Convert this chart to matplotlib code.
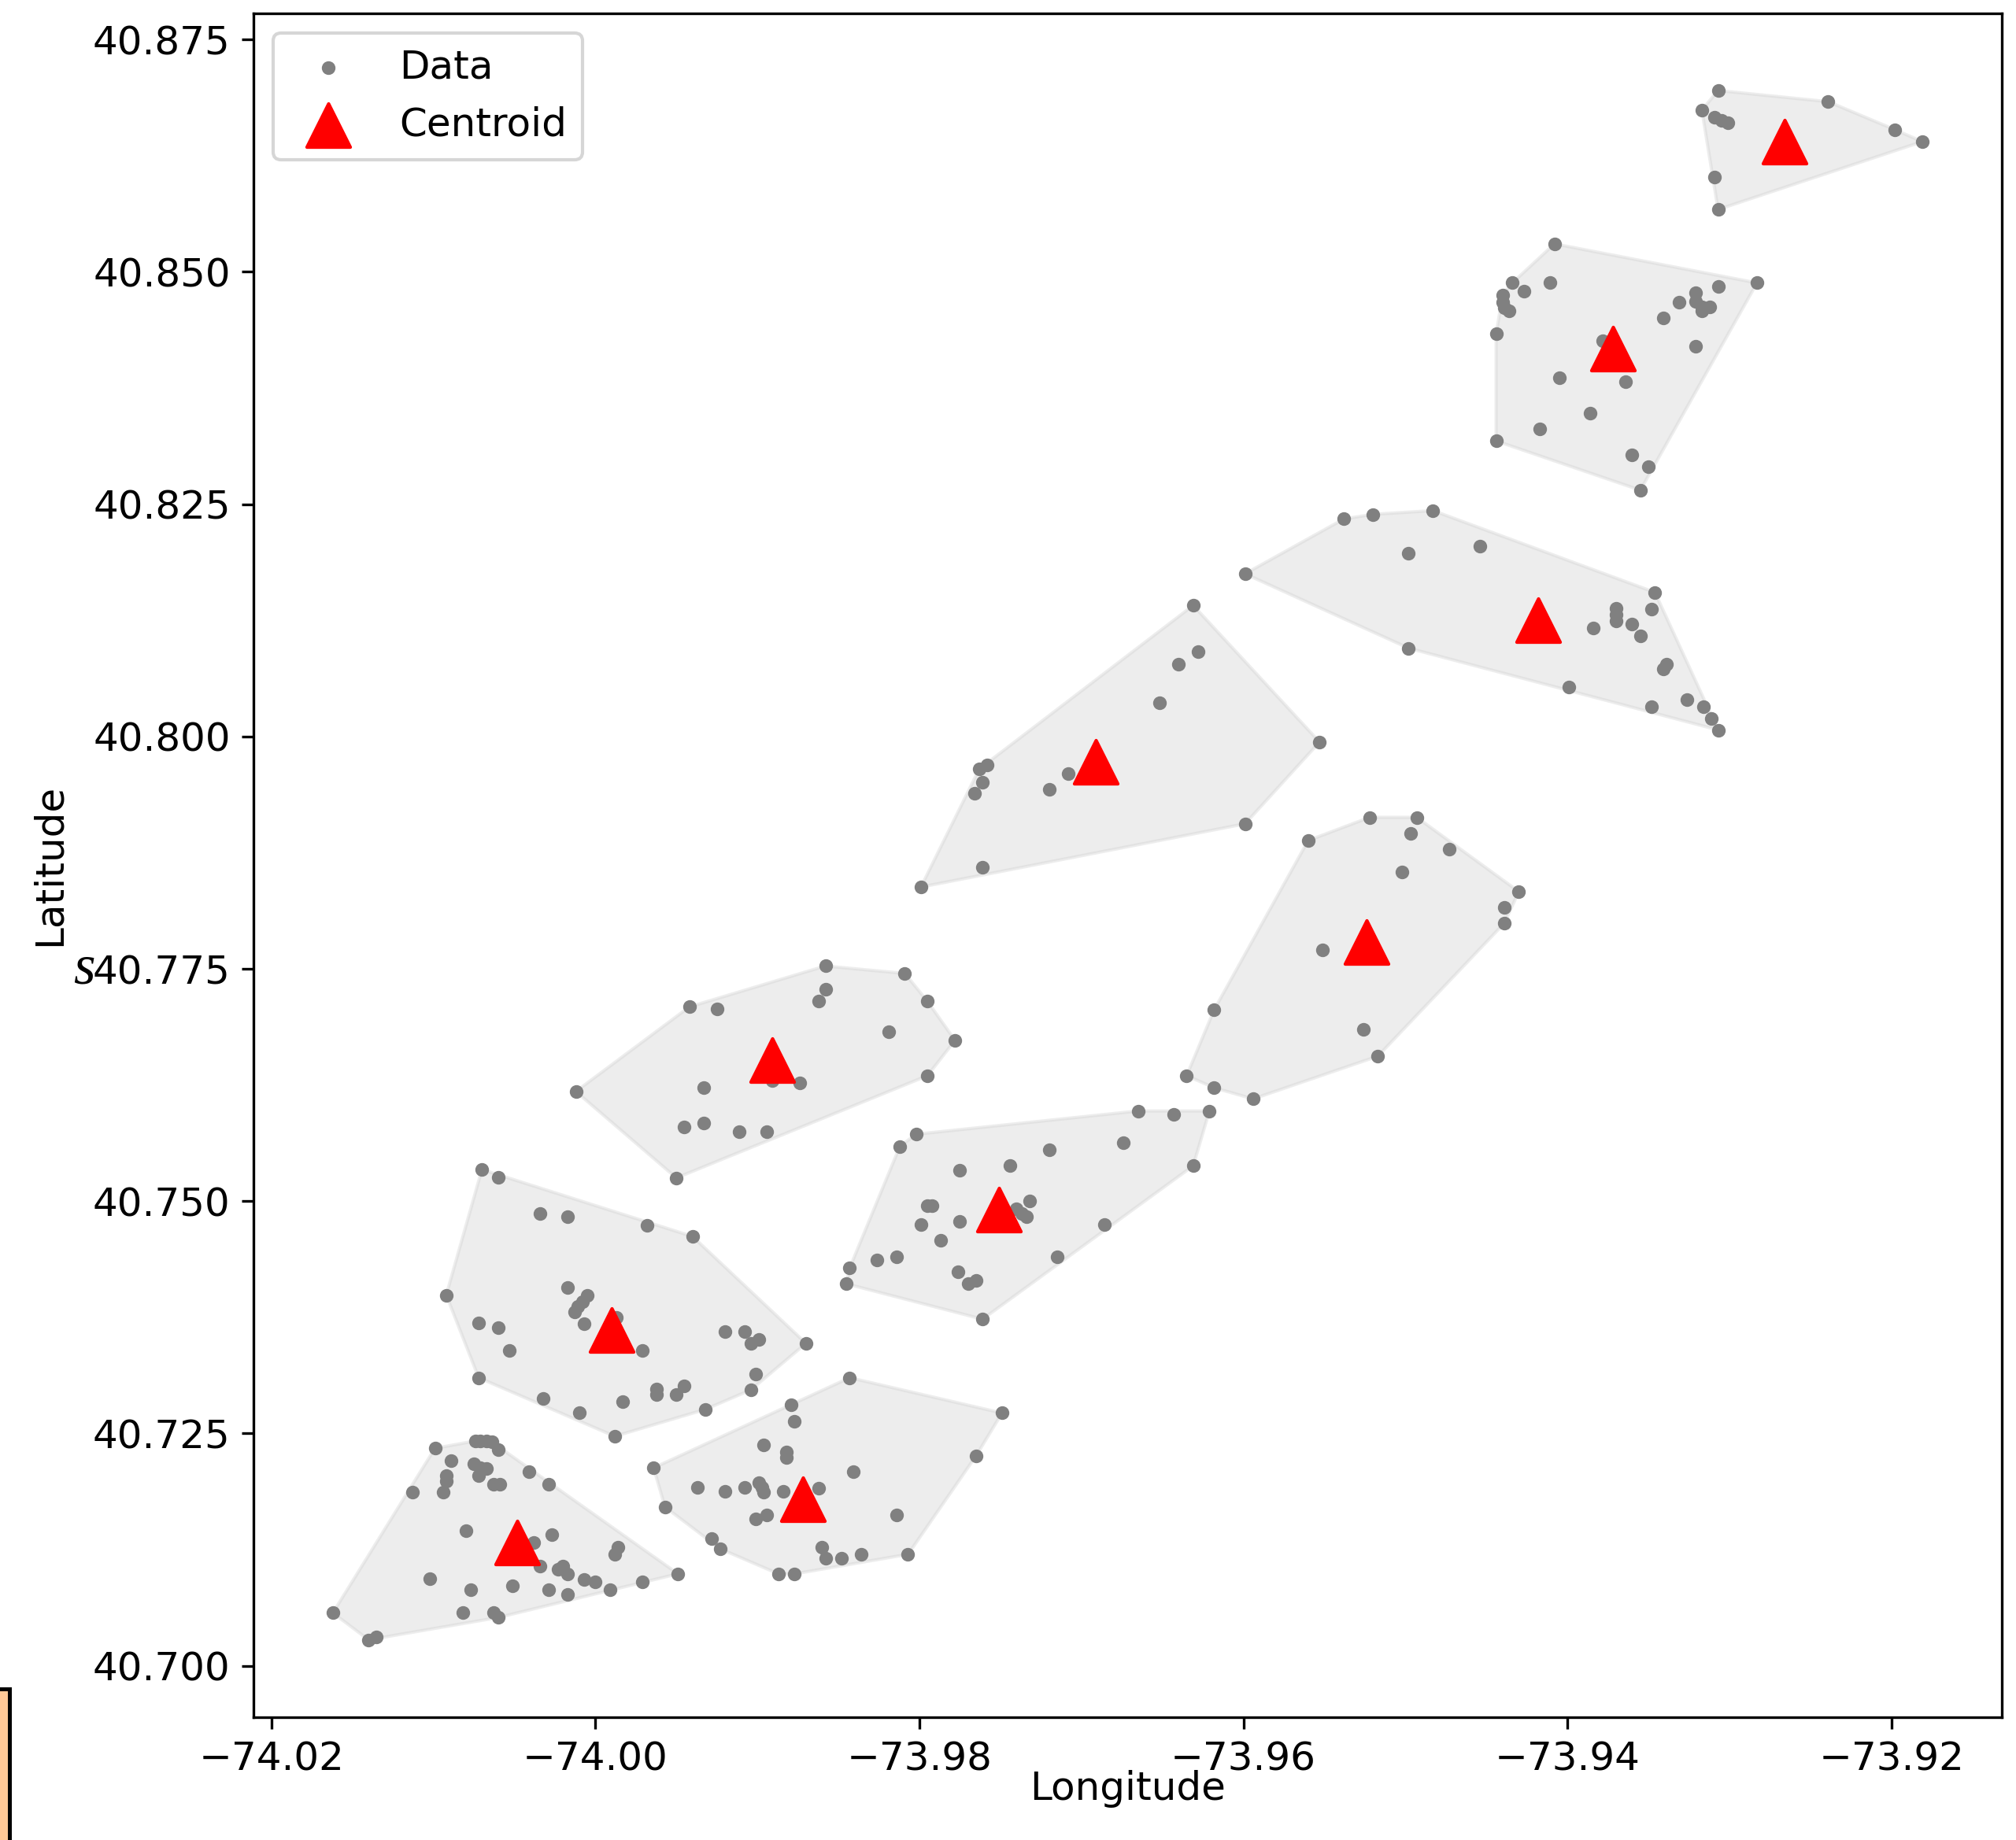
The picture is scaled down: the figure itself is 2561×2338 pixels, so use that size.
import numpy as np
import matplotlib.pyplot as plt
from matplotlib.patches import Rectangle

# Координати точок кожного кластера (довгота, широта)
c1_lon = [-73.9307, -73.9239, -73.9198, -73.9181, -73.9317, -73.9309, -73.9305, -73.9301, -73.9309, -73.9307]
c1_lat = [40.8695, 40.8683, 40.8653, 40.8640, 40.8674, 40.8666, 40.8663, 40.8660, 40.8602, 40.8567]

c2_lon = [-73.9408, -73.9283, -73.9307, -73.9411, -73.9434, -73.9427, -73.9440, -73.9440, -73.9439, -73.9436,
          -73.9444, -73.9321, -73.9321, -73.9317, -73.9312, -73.9317, -73.9331, -73.9341, -73.9321, -73.9378,
          -73.9405, -73.9364, -73.9386, -73.9417, -73.9444, -73.9360, -73.9350, -73.9355]
c2_lat = [40.8530, 40.8488, 40.8484, 40.8488, 40.8488, 40.8479, 40.8475, 40.8467, 40.8461, 40.8458,
          40.8433, 40.8477, 40.8468, 40.8462, 40.8462, 40.8458, 40.8467, 40.8450, 40.8420, 40.8426,
          40.8386, 40.8382, 40.8348, 40.8331, 40.8318, 40.8303, 40.8290, 40.8265]

c3_lon = [-73.9599, -73.9538, -73.9520, -73.9483, -73.9498, -73.9454, -73.9498, -73.9399, -73.9346, -73.9348,
          -73.9370, -73.9370, -73.9370, -73.9384, -73.9360, -73.9355, -73.9339, -73.9341, -73.9348, -73.9326,
          -73.9316, -73.9311, -73.9307]
c3_lat = [40.8175, 40.8234, 40.8239, 40.8243, 40.8197, 40.8205, 40.8095, 40.8053, 40.8155, 40.8137,
          40.8138, 40.8131, 40.8124, 40.8117, 40.8121, 40.8108, 40.8078, 40.8073, 40.8032, 40.8040,
          40.8032, 40.8019, 40.8007]

c4_lon = [-73.9631, -73.9628, -73.9640, -73.9652, -73.9553, -73.9599, -73.9761, -73.9799, -73.9758, -73.9763,
          -73.9761, -73.9766, -73.9708, -73.9720]
c4_lat = [40.8141, 40.8091, 40.8078, 40.8036, 40.7994, 40.7906, 40.7859, 40.7838, 40.7969, 40.7965,
          40.7951, 40.7939, 40.7960, 40.7943]

c5_lon = [-73.9522, -73.9493, -73.9497, -73.9560, -73.9473, -73.9502, -73.9430, -73.9439, -73.9439, -73.9551,
          -73.9618, -73.9526, -73.9517, -73.9635, -73.9618, -73.9594]
c5_lat = [40.7913, 40.7913, 40.7896, 40.7888, 40.7879, 40.7854, 40.7833, 40.7816, 40.7799, 40.7770,
          40.7706, 40.7685, 40.7656, 40.7635, 40.7622, 40.7610]

c6_lon = [-73.9858, -73.9809, -73.9858, -73.9862, -73.9795, -73.9942, -73.9925, -73.9819, -73.9778, -74.0012,
          -73.9933, -73.9891, -73.9874, -73.9795, -73.9945, -73.9933, -73.9911, -73.9894, -73.9950]
c6_lat = [40.7753, 40.7745, 40.7728, 40.7715, 40.7715, 40.7709, 40.7707, 40.7682, 40.7673, 40.7618,
          40.7622, 40.7630, 40.7627, 40.7635, 40.7580, 40.7584, 40.7575, 40.7575, 40.7525]

c7_lon = [-73.9665, -73.9643, -73.9621, -73.9802, -73.9812, -73.9674, -73.9720, -73.9744, -73.9775, -73.9631,
          -73.9795, -73.9792, -73.9732, -73.9740, -73.9737, -73.9734, -73.9799, -73.9775, -73.9686, -73.9787,
          -73.9826, -73.9814, -73.9715, -73.9843, -73.9845, -73.9776, -73.9765, -73.9770, -73.9761]
c7_lat = [40.7597, 40.7593, 40.7597, 40.7572, 40.7559, 40.7563, 40.7555, 40.7538, 40.7533, 40.7538,
          40.7495, 40.7495, 40.7500, 40.7492, 40.7487, 40.7483, 40.7475, 40.7478, 40.7475, 40.7458,
          40.7437, 40.7440, 40.7440, 40.7428, 40.7411, 40.7424, 40.7415, 40.7411, 40.7373]

c8_lon = [-74.0070, -74.0060, -74.0034, -74.0017, -73.9968, -73.9940, -74.0092, -74.0017, -74.0005, -74.0008,
          -74.0011, -74.0013, -74.0007, -73.9987, -74.0072, -74.0060, -74.0053, -73.9971, -73.9920, -73.9908,
          -73.9899, -73.9904, -73.9870, -73.9901, -73.9904, -74.0072, -74.0032, -74.0010, -73.9983, -73.9962,
          -73.9962, -73.9950, -73.9945, -73.9932, -73.9988]
c8_lat = [40.7534, 40.7526, 40.7487, 40.7483, 40.7474, 40.7462, 40.7399, 40.7407, 40.7399, 40.7392,
          40.7387, 40.7381, 40.7368, 40.7375, 40.7369, 40.7364, 40.7339, 40.7339, 40.7360, 40.7360,
          40.7351, 40.7347, 40.7347, 40.7314, 40.7297, 40.7310, 40.7288, 40.7272, 40.7284, 40.7298,
          40.7292, 40.7292, 40.7301, 40.7276, 40.7247]

c9_lon = [-73.9843, -73.9749, -73.9879, -73.9877, -73.9765, -73.9896, -73.9882, -73.9882, -73.9964, -73.9841,
          -73.9937, -73.9920, -73.9908, -73.9899, -73.9897, -73.9896, -73.9884, -73.9862, -73.9957, -73.9901,
          -73.9894, -73.9814, -73.9928, -73.9923, -73.9860, -73.9858, -73.9848, -73.9836, -73.9807, -73.9887,
          -73.9877]
c9_lat = [40.7310, 40.7272, 40.7281, 40.7263, 40.7226, 40.7238, 40.7230, 40.7224, 40.7213, 40.7209,
          40.7192, 40.7188, 40.7192, 40.7197, 40.7192, 40.7187, 40.7188, 40.7191, 40.7171, 40.7158,
          40.7162, 40.7162, 40.7137, 40.7126, 40.7128, 40.7116, 40.7116, 40.7120, 40.7120, 40.7099,
          40.7099]

c10_lon = [-74.0099, -74.0074, -74.0071, -74.0067, -74.0064, -74.0060, -74.0089, -74.0075, -74.0071, -74.0067,
           -74.0072, -74.0092, -74.0092, -74.0094, -74.0113, -74.0063, -74.0059, -74.0041, -74.0029, -74.0080,
           -74.0038, -74.0027, -73.9986, -73.9988, -74.0034, -74.0023, -74.0020, -74.0017, -74.0007, -74.0000,
           -73.9949, -73.9971, -73.9991, -74.0102, -74.0077, -74.0051, -74.0029, -74.0017, -74.0162, -74.0082,
           -74.0063, -74.0060, -74.0140, -74.0135]
c10_lat = [40.7234, 40.7242, 40.7242, 40.7242, 40.7241, 40.7233, 40.7221, 40.7217, 40.7213, 40.7212,
           40.7205, 40.7205, 40.7199, 40.7187, 40.7187, 40.7195, 40.7195, 40.7209, 40.7195, 40.7145,
           40.7133, 40.7141, 40.7128, 40.7120, 40.7107, 40.7104, 40.7107, 40.7099, 40.7093, 40.7090,
           40.7099, 40.7090, 40.7082, 40.7094, 40.7082, 40.7086, 40.7082, 40.7077, 40.7057, 40.7057,
           40.7057, 40.7052, 40.7028, 40.7031]

# Центроїди кластерів
centroid_lon = [-73.9266, -73.9372, -73.9418, -73.9691, -73.9524, -73.9891, -73.9751, -73.9990, -73.9872, -74.0048]
centroid_lat = [40.8640, 40.8417, 40.8125, 40.7973, 40.7779, 40.7652, 40.7491, 40.7361, 40.7179, 40.7133]


def convex_hull(xs, ys):
    # опукла оболонка (monotone chain)
    pts = sorted(set(zip(xs, ys)))

    def cross(o, a, b):
        return (a[0] - o[0]) * (b[1] - o[1]) - (a[1] - o[1]) * (b[0] - o[0])

    lower = []
    for p in pts:
        while len(lower) >= 2 and cross(lower[-2], lower[-1], p) <= 0:
            lower.pop()
        lower.append(p)
    upper = []
    for p in reversed(pts):
        while len(upper) >= 2 and cross(upper[-2], upper[-1], p) <= 0:
            upper.pop()
        upper.append(p)
    return np.array(lower[:-1] + upper[:-1])


clusters = [(c1_lon, c1_lat), (c2_lon, c2_lat), (c3_lon, c3_lat), (c4_lon, c4_lat), (c5_lon, c5_lat),
            (c6_lon, c6_lat), (c7_lon, c7_lat), (c8_lon, c8_lat), (c9_lon, c9_lat), (c10_lon, c10_lat)]

plt.rcParams['font.size'] = 12

fig = plt.figure(figsize=(2561 / 300, 2338 / 300), dpi=300)
ax = fig.add_axes([0.1257, 0.0667, 0.8672, 0.9262])

# Оболонки кластерів
for lon, lat in clusters:
    hull = convex_hull(lon, lat)
    ax.fill(hull[:, 0], hull[:, 1], color='lightgray', alpha=0.4)

all_lon = np.concatenate([c[0] for c in clusters])
all_lat = np.concatenate([c[1] for c in clusters])
ax.scatter(all_lon, all_lat, s=10, color='gray', label='Data')
ax.scatter(centroid_lon, centroid_lat, marker='^', s=175, color='red', label='Centroid')

ax.legend(loc='upper left')
ax.set_xlabel('Longitude', labelpad=-2.5)
ax.set_ylabel('Latitude', labelpad=7.5)

# Артефакти з оригінального скріншоту
fig.text(0.0365, 0.4731, 's', fontsize=17, family='Liberation Serif', style='italic', va='center')
fig.patches.append(Rectangle((-0.01, -0.01), 0.0147, 0.0921, transform=fig.transFigure,
                             facecolor='#ffc896', edgecolor='black', linewidth=1.2))

fig.savefig('out.png', dpi=300)
